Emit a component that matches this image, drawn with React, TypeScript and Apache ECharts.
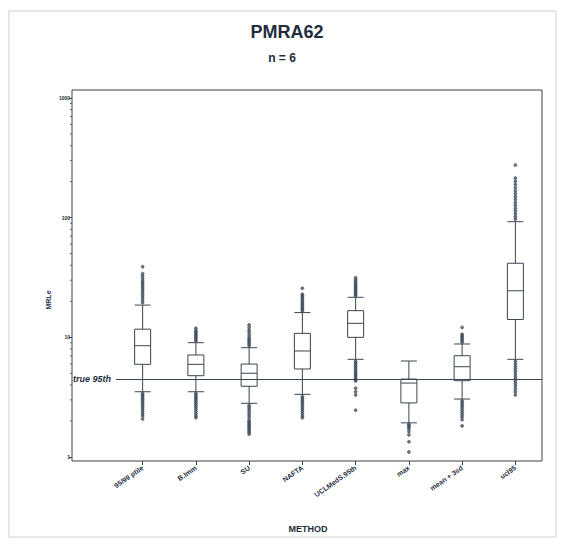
import React, { useEffect, useRef } from "react";
import * as echarts from "echarts";

const categories = ["95/99 ptile", "B.Imm", "SU", "NAFTA", "UCLMedS.95th", "max", "mean + 3sd", "ucl95"];

// [lower whisker, Q1, median, Q3, upper whisker]
const boxStats = [
  [3.51, 5.95, 8.51, 11.7, 18.6],
  [3.51, 4.78, 5.95, 7.12, 9.02],
  [2.81, 3.9, 5.01, 5.98, 8.19],
  [3.34, 5.44, 7.69, 10.8, 16.1],
  [6.55, 10.0, 13.1, 16.7, 21.6],
  [1.93, 2.83, 4.15, 4.48, 6.34],
  [3.05, 4.34, 5.68, 7.02, 8.8],
  [6.55, 14.1, 24.5, 41.6, 92.5],
];

const outliers0 = [19.5, 20.5, 21.5, 22.5, 23.5, 24.5, 25.5, 26.5, 27.5, 28.5, 29.5, 31, 32.5, 34, 38.9,
  3.4, 3.3, 3.2, 3.1, 3.0, 2.9, 2.8, 2.7, 2.6, 2.5, 2.4, 2.3, 2.2, 2.08];
const outliers1 = [9.3, 9.6, 9.9, 10.2, 10.5, 10.8, 11.1, 11.4, 11.9,
  3.4, 3.3, 3.2, 3.1, 3.0, 2.9, 2.8, 2.7, 2.6, 2.5, 2.4, 2.3, 2.2, 2.13];
const outliers2 = [8.5, 8.8, 9.1, 9.4, 9.7, 10.0, 10.5, 11.0, 11.5, 12.1, 12.7,
  2.7, 2.6, 2.5, 2.4, 2.3, 2.2, 2.1, 2.0, 1.95, 1.9, 1.85, 1.8, 1.75, 1.7, 1.65, 1.6, 1.55];
const outliers3 = [16.6, 17.1, 17.6, 18.1, 18.6, 19.1, 19.7, 20.3, 21.0, 21.7, 22.4, 22.9, 25.7,
  3.2, 3.1, 3.0, 2.9, 2.8, 2.7, 2.6, 2.5, 2.4, 2.3, 2.2, 2.13];
const outliers4 = [22.2, 22.8, 23.4, 24.0, 24.7, 25.4, 26.1, 26.8, 27.6, 28.4, 29.3, 30.3, 31.5,
  6.3, 6.1, 5.9, 5.7, 5.5, 5.3, 5.1, 4.95, 4.8, 4.65, 4.5, 4.4, 4.32, 3.75, 3.51, 3.3, 2.46];
const outliers5 = [1.88, 1.83, 1.78, 1.72, 1.63, 1.53, 1.34, 1.1];
const outliers6 = [9.1, 9.4, 9.7, 10.0, 10.3, 10.6, 12.1,
  2.95, 2.85, 2.75, 2.65, 2.55, 2.45, 2.35, 2.25, 2.15, 2.05, 1.82];
const outliers7 = [97, 102, 108, 114, 120, 127, 134, 142, 150, 159, 168, 178, 189, 201, 214, 275,
  6.3, 6.0, 5.7, 5.45, 5.2, 4.95, 4.7, 4.5, 4.3, 4.1, 3.9, 3.7, 3.5, 3.3];
const outlierLists = [outliers0, outliers1, outliers2, outliers3, outliers4, outliers5, outliers6, outliers7];

const trueP95 = 4.48;
const yMin = 1;
const yMax = 1000;
const minorTickValues = [2, 3, 4, 5, 6, 7, 8, 9, 20, 30, 40, 50, 60, 70, 80, 90, 200, 300, 400, 500, 600, 700, 800, 900];

const INK = "#3a4550";
const TXT = "#1f2d3d";
const FONT = "'Liberation Sans', Arial, sans-serif";

export default function App() {
  const ref = useRef<HTMLDivElement>(null);
  useEffect(() => {
    if (!ref.current) return;
    const chart = echarts.init(ref.current, null, { renderer: "svg" });
    const scatterData: number[][] = [];
    outlierLists.forEach((list, i) => list.forEach((v) => scatterData.push([i, v])));
    const Y_OFFSET = 44;

    chart.setOption({
      animation: false,
      backgroundColor: "#ffffff",
      textStyle: { fontFamily: FONT },
      grid: { left: 116, right: 22, top: 98, bottom: 83 },
      xAxis: {
        type: "category",
        data: categories,
        offset: 4,
        axisLine: { show: false },
        axisTick: { show: true, alignWithLabel: true, length: 4, lineStyle: { color: INK, width: 1 } },
        axisLabel: {
          interval: 0,
          rotate: 35,
          fontSize: 7,
          fontWeight: "bold",
          color: TXT,
          margin: 6,
          fontFamily: FONT,
        },
        splitLine: { show: false },
      },
      yAxis: {
        type: "log",
        logBase: 10,
        min: yMin,
        max: yMax,
        offset: Y_OFFSET,
        axisLine: { show: false },
        axisTick: { show: true, length: 3, lineStyle: { color: INK, width: 1 } },
        axisLabel: {
          fontSize: 5,
          fontWeight: "bold",
          color: TXT,
          margin: 2,
          fontFamily: FONT,
          formatter: (v: number) => String(Math.round(v)),
        },
        splitLine: { show: false },
      },
      graphic: [
        {
          type: "rect",
          shape: { x: 9, y: 11, width: 547, height: 526 },
          style: { fill: "none", stroke: "#d0d0d0", lineWidth: 1 },
          silent: true,
        },
        {
          type: "rect",
          shape: { x: 72, y: 90, width: 470, height: 371 },
          style: { fill: "none", stroke: INK, lineWidth: 1 },
          silent: true,
        },
        {
          type: "text",
          x: 287,
          y: 32,
          style: { text: "PMRA62", font: `bold 18px ${FONT}`, fill: TXT, align: "center", verticalAlign: "middle" },
        },
        {
          type: "text",
          x: 282,
          y: 58,
          style: { text: "n = 6", font: `bold 12px ${FONT}`, fill: TXT, align: "center", verticalAlign: "middle" },
        },
        {
          type: "text",
          x: 48,
          y: 300,
          rotation: Math.PI / 2,
          style: { text: "MRLe", font: `bold 7px ${FONT}`, fill: TXT, align: "center", verticalAlign: "middle" },
        },
        {
          type: "text",
          x: 308,
          y: 529,
          style: { text: "METHOD", font: `bold 9px ${FONT}`, fill: TXT, align: "center", verticalAlign: "middle" },
        },
      ],
      series: [
        {
          type: "boxplot",
          data: boxStats,
          boxWidth: [16, 16],
          itemStyle: { color: "rgba(255,255,255,0)", borderColor: INK, borderWidth: 1 },
          z: 3,
          markLine: {
            silent: true,
            symbol: ["none", "none"],
            data: [{ yAxis: trueP95 }],
            lineStyle: { color: INK, width: 1, type: "solid" },
            label: {
              show: true,
              position: "start",
              formatter: "true 95th",
              fontStyle: "italic",
              fontWeight: "bold",
              fontSize: 9,
              color: TXT,
              distance: 5,
              fontFamily: FONT,
            },
          },
        },
        {
          type: "scatter",
          data: scatterData,
          symbol: "circle",
          symbolSize: 3,
          itemStyle: { color: "#4a5560", borderColor: INK, borderWidth: 0.7 },
          z: 4,
        },
        {
          type: "custom",
          clip: false,
          silent: true,
          data: minorTickValues.map((v) => [0, v]),
          renderItem: (params: any, api: any) => {
            const y = api.coord([0, api.value(1)])[1];
            const x0 = params.coordSys.x - Y_OFFSET;
            return {
              type: "line",
              shape: { x1: x0 - 2, y1: y, x2: x0, y2: y },
              style: { stroke: INK, lineWidth: 0.8 },
            };
          },
        },
      ],
    });
    return () => chart.dispose();
  }, []);
  return (
    <div
      ref={ref}
      style={{ position: "absolute", left: 0, top: 0, width: 564, height: 540, background: "#fff" }}
    />
  );
}
